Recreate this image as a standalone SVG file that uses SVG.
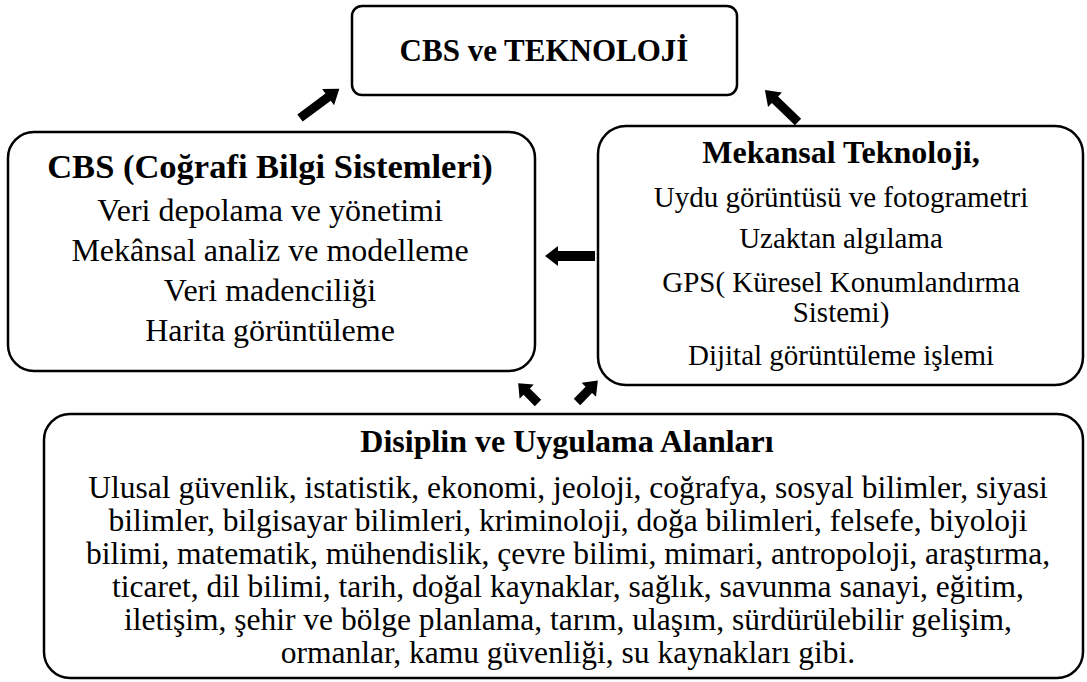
<svg xmlns="http://www.w3.org/2000/svg" width="1087" height="682" viewBox="0 0 1087 682">
<style>
.box{fill:#fff;stroke:#000;stroke-width:2.5}
.t{font-family:'Liberation Serif',serif;font-weight:bold;font-size:31px;text-anchor:middle;fill:#000}
.b{font-family:'Liberation Serif',serif;font-size:29px;text-anchor:middle;fill:#000}
.l{font-size:32px}
.lt{font-size:34.5px}
.d{font-size:31.5px}
.dt{font-size:32px}
.arr{fill:#000}
</style>
<rect width="1087" height="682" fill="#fff"/>
<g id="top">
<rect class="box" x="352" y="6" width="385" height="89" rx="10"/>
<text class="t" x="544" y="61">CBS ve TEKNOLOJİ</text>
</g>
<g id="cbs">
<rect class="box" x="8" y="132" width="527" height="239" rx="26"/>
<text class="t lt" x="270" y="178">CBS (Coğrafi Bilgi Sistemleri)</text>
<text class="b l" x="270" y="221">Veri depolama ve yönetimi</text>
<text class="b l" x="270" y="261">Mekânsal analiz ve modelleme</text>
<text class="b l" x="270" y="301">Veri madenciliği</text>
<text class="b l" x="270" y="341">Harita görüntüleme</text>
</g>
<g id="mekansal">
<rect class="box" x="598" y="126" width="485" height="259" rx="28"/>
<text class="t" x="841" y="163" style="font-size:32px">Mekansal Teknoloji,</text>
<text class="b" x="841" y="207">Uydu görüntüsü ve fotogrametri</text>
<text class="b" x="841" y="248">Uzaktan algılama</text>
<text class="b" x="841" y="292">GPS( Küresel Konumlandırma</text>
<text class="b" x="841" y="322">Sistemi)</text>
<text class="b" x="841" y="365">Dijital görüntüleme işlemi</text>
</g>
<g id="disiplin">
<rect class="box" x="44" y="414" width="1039" height="264" rx="26"/>
<text class="t dt" x="567" y="452">Disiplin ve Uygulama Alanları</text>
<text class="b d" x="568" y="498">Ulusal güvenlik, istatistik, ekonomi, jeoloji, coğrafya, sosyal bilimler, siyasi</text>
<text class="b d" x="568" y="531">bilimler, bilgisayar bilimleri, kriminoloji, doğa bilimleri, felsefe, biyoloji</text>
<text class="b d" x="568" y="564">bilimi, matematik, mühendislik, çevre bilimi, mimari, antropoloji, araştırma,</text>
<text class="b d" x="568" y="597">ticaret, dil bilimi, tarih, doğal kaynaklar, sağlık, savunma sanayi, eğitim,</text>
<text class="b d" x="568" y="630">iletişim, şehir ve bölge planlama, tarım, ulaşım, sürdürülebilir gelişim,</text>
<text class="b d" x="568" y="663">ormanlar, kamu güvenliği, su kaynakları gibi.</text>
</g>
<g id="connectors">
<path class="arr" transform="translate(300,118) rotate(-36.6)" d="M0,-4.5 H35 V-10 L49,0 L35,10 V4.5 H0 Z"/>
<path class="arr" transform="translate(798,122) rotate(-136)" d="M0,-4.5 H32 V-10 L46,0 L32,10 V4.5 H0 Z"/>
<path class="arr" transform="translate(595,256) rotate(180)" d="M0,-5 H37 V-10 L50,0 L37,10 V5 H0 Z"/>
<path class="arr" transform="translate(538,403) rotate(-135)" d="M0,-4.5 H16 V-10 L28,0 L16,10 V4.5 H0 Z"/>
<path class="arr" transform="translate(577,402) rotate(-46)" d="M0,-4.5 H17 V-10 L30,0 L17,10 V4.5 H0 Z"/>
</g>
</svg>
